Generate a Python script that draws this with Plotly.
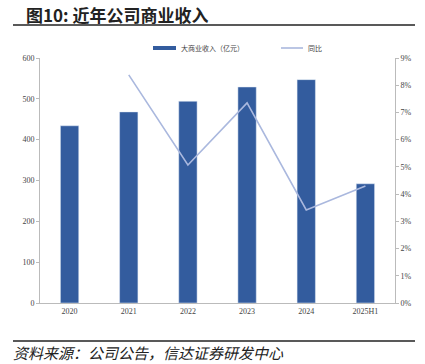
import plotly.graph_objects as go

categories = ["2020", "2021", "2022", "2023", "2024", "2025H1"]
revenue = [434, 468, 494, 529, 547, 292]
yoy_cats = ["2021", "2022", "2023", "2024", "2025H1"]
yoy = [8.38, 5.07, 7.35, 3.42, 4.3]

BAR_C = "#335C9E"
LINE_C = "#AAB8DE"

fig = go.Figure()
fig.add_trace(go.Bar(x=categories, y=revenue, name="大商业收入（亿元）",
                     marker_color=BAR_C, width=0.31))
fig.add_trace(go.Scatter(x=yoy_cats, y=yoy, name="同比", mode="lines",
                         line=dict(color=LINE_C, width=1.6), yaxis="y2"))

W, H = 355, 245  # plot area size in px
def px(x): return (x - 40) / W
def py(y): return (303 - y) / H

tickfont = dict(family="Liberation Serif, serif", size=8, color="#444")
fig.update_layout(
    width=425, height=364,
    margin=dict(l=40, r=30, t=58, b=61),
    paper_bgcolor="white", plot_bgcolor="white",
    showlegend=False,
    xaxis=dict(showline=True, linecolor="#BBBBBB", linewidth=1, tickfont=tickfont,
               ticks="", showgrid=False),
    yaxis=dict(range=[0, 600], dtick=100, showline=True, linecolor="#BBBBBB",
               ticks="outside", ticklen=3, tickcolor="#BBBBBB", showgrid=False,
               tickfont=tickfont, zeroline=False),
    yaxis2=dict(range=[0, 9], dtick=1, overlaying="y", side="right", showline=True,
                linecolor="#BBBBBB", ticks="outside", ticklen=3, tickcolor="#BBBBBB",
                showgrid=False, ticksuffix="%", tickfont=tickfont, zeroline=False),
    bargap=0.69,
)

# manual legend
fig.add_shape(type="rect", xref="paper", yref="paper", x0=px(153), x1=px(176),
              y0=py(50), y1=py(46), fillcolor=BAR_C, line=dict(width=0))
fig.add_annotation(text="大商业收入（亿元）", xref="paper", yref="paper", x=px(179),
                   xanchor="left", y=py(48), yanchor="middle", showarrow=False,
                   font=dict(family="Noto Sans CJK SC", size=7, color="#444"))
fig.add_shape(type="line", xref="paper", yref="paper", x0=px(281), x1=px(303),
              y0=py(48), y1=py(48), line=dict(color=LINE_C, width=1.6))
fig.add_annotation(text="同比", xref="paper", yref="paper", x=px(306),
                   xanchor="left", y=py(48), yanchor="middle", showarrow=False,
                   font=dict(family="Noto Sans CJK SC", size=7, color="#444"))

fig.add_annotation(text="<b>图10: 近年公司商业收入</b>", xref="paper", yref="paper",
                   x=px(24), xanchor="left", y=py(14), yanchor="middle",
                   showarrow=False,
                   font=dict(family="Noto Sans CJK SC", size=17, color="#222"))
fig.add_shape(type="line", xref="paper", yref="paper",
              x0=px(13), x1=px(415), y0=py(25), y1=py(25),
              line=dict(color="#222", width=1.5))
fig.add_shape(type="line", xref="paper", yref="paper",
              x0=px(13), x1=px(415), y0=py(341), y1=py(341),
              line=dict(color="#222", width=1.5))
fig.add_annotation(text="<i>资料来源：公司公告，信达证券研发中心</i>", xref="paper", yref="paper",
                   x=px(11), xanchor="left", y=py(352), yanchor="middle",
                   showarrow=False,
                   font=dict(family="Noto Sans CJK SC", size=15, color="#222"))

fig.write_html("out.html")
